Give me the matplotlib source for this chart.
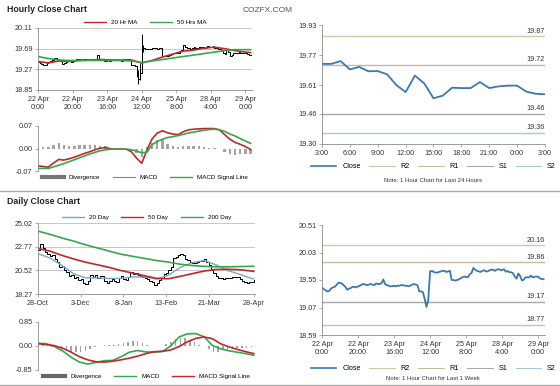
import numpy as np
import matplotlib
matplotlib.use("Agg")
import matplotlib.pyplot as plt
from matplotlib.lines import Line2D

plt.rcParams['font.family'] = ['Liberation Sans', 'DejaVu Sans']

# ---- hourly close, last week (22 Apr 0:00 -> 29 Apr ~3:00) ----
week_head = [19.42, 19.39, 19.37, 19.35, 19.36, 19.40, 19.42, 19.43, 19.46, 19.50,
             19.50, 19.49, 19.46, 19.43, 19.38, 19.40, 19.41, 19.43, 19.43, 19.42,
             19.44, 19.45, 19.47, 19.48, 19.47, 19.46, 19.47, 19.48, 19.47, 19.46,
             19.49, 19.48, 19.48, 19.49, 19.56, 19.48, 19.46, 19.45, 19.44, 19.44,
             19.45, 19.44, 19.45, 19.45, 19.46, 19.46, 19.45, 19.45, 19.44, 19.45,
             19.47, 19.48, 19.47, 19.46, 19.35, 19.35, 19.34, 19.22, 19.08, 19.20,
             19.70, 19.71, 19.69, 19.68, 19.68, 19.69, 19.70, 19.71, 19.71, 19.69,
             19.70, 19.71, 19.55, 19.55, 19.54, 19.55, 19.56, 19.58, 19.60, 19.61,
             19.60, 19.60, 19.65, 19.67, 19.76, 19.73, 19.71, 19.70, 19.69, 19.71,
             19.72, 19.70, 19.70, 19.72, 19.73, 19.73, 19.71, 19.73, 19.74]
# last 24 hours (3:00 -> 3:00)
day_close = [19.724, 19.724, 19.739, 19.695, 19.708, 19.685, 19.686, 19.669, 19.612,
             19.575, 19.662, 19.621, 19.542, 19.556, 19.598, 19.596, 19.596, 19.628,
             19.596, 19.605, 19.609, 19.609, 19.577, 19.566, 19.563]
week_close = week_head + day_close

spike_hours = [57, 58, 59, 60, 61]
spike_low = [19.12, 18.97, 19.05, 19.30, 19.62]
spike_high = [19.30, 19.25, 19.40, 19.98, 19.76]

ma_hours = [0, 6, 12, 18, 24, 30, 36, 42, 48, 54, 60, 66, 72, 78, 84, 90, 96, 102,
            108, 114, 120, 123]
ma20_hr = [19.43, 19.40, 19.44, 19.43, 19.45, 19.46, 19.47, 19.46, 19.46, 19.46,
           19.40, 19.45, 19.52, 19.58, 19.64, 19.66, 19.70, 19.72, 19.69, 19.65,
           19.62, 19.61]
ma50_hr = [19.53, 19.49, 19.46, 19.45, 19.45, 19.45, 19.45, 19.45, 19.45, 19.44,
           19.41, 19.44, 19.47, 19.50, 19.53, 19.56, 19.59, 19.62, 19.65, 19.67,
           19.67, 19.67]

macd_hours = list(range(0, 124, 3))
macd_hr = [-0.054, -0.056, -0.058, -0.045, -0.034, -0.036, -0.032, -0.027, -0.021, -0.015,
           -0.010, -0.004, 0.001, 0.003, -0.001, -0.002, -0.002, -0.002, -0.010, -0.030,
           -0.046, -0.005, 0.030, 0.048, 0.055, 0.049, 0.045, 0.043, 0.052, 0.058,
           0.060, 0.061, 0.062, 0.062, 0.062, 0.058, 0.043, 0.029, 0.019, 0.013,
           0.006, -0.003]
signal_hr = [-0.062, -0.062, -0.062, -0.057, -0.052, -0.047, -0.041, -0.035, -0.029, -0.023,
             -0.017, -0.012, -0.007, -0.004, -0.002, -0.002, -0.002, -0.002, -0.004, -0.008,
             -0.013, -0.012, 0.012, 0.022, 0.029, 0.034, 0.037, 0.040, 0.044, 0.048,
             0.051, 0.054, 0.057, 0.059, 0.060, 0.058, 0.053, 0.045, 0.039, 0.031,
             0.023, 0.016]
div_hr = [0.002, 0.004, 0.006, 0.012, 0.016, 0.011, 0.009, 0.008, 0.010, 0.011,
          0.010, 0.010, 0.008, 0.007, 0.003, 0.001, 0.000, 0.000, -0.004, -0.015,
          -0.025, 0.006, 0.018, 0.026, 0.026, 0.015, 0.008, 0.004, 0.008, 0.009,
          0.008, 0.007, 0.005, 0.003, 0.002, -0.002, -0.010, -0.016, -0.020, -0.018,
          -0.017, -0.016]

hr_ticks = [0, 20, 40, 60, 80, 100, 120]
hr_labels = ['22 Apr\n0:00', '22 Apr\n20:00', '23 Apr\n16:00', '24 Apr\n12:00',
             '25 Apr\n8:00', '28 Apr\n4:00', '29 Apr\n0:00']
h24_labels = ['3:00', '6:00', '9:00', '12:00', '15:00', '18:00', '21:00', '0:00', '3:00']

# ---- daily close (28-Oct -> 28-Apr), every 2 days ----
daily_close = [22.50, 23.05, 22.60, 22.30, 22.10, 21.85, 21.95, 21.60, 21.30, 20.80,
               20.90, 20.55, 20.40, 20.00, 20.10, 19.75, 19.85, 19.60, 19.70, 19.35,
               19.20, 19.50, 20.10, 19.90, 20.05, 19.80, 19.95, 20.00, 19.55, 19.30,
               19.55, 19.65, 19.50, 19.45, 19.80, 19.95, 19.70, 19.60, 19.90, 20.35,
               20.20, 20.25, 20.10, 19.95, 19.90, 19.75, 19.70, 19.55, 19.45, 19.15,
               19.35, 19.60, 19.75, 20.15, 20.30, 20.55, 20.85, 21.70, 21.80, 21.95,
               22.05, 21.95, 21.60, 21.50, 21.35, 21.25, 21.20, 21.30, 21.40, 21.45,
               21.55, 21.35, 21.05, 20.60, 20.25, 19.95, 19.80, 19.75, 19.70, 19.78,
               19.80, 19.82, 19.86, 19.88, 19.84, 19.70, 19.50, 19.40, 19.35, 19.40,
               19.45, 19.56]
ma_days = [0, 10, 20, 30, 40, 50, 60, 70, 80, 90, 100, 110, 120, 130, 140, 150, 160,
           170, 180, 182]
ma20_d = [22.10, 21.70, 21.00, 20.20, 19.80, 19.80, 19.75, 19.75, 19.90, 19.88,
          19.70, 20.05, 20.80, 21.25, 21.45, 21.05, 20.50, 20.15, 19.75, 19.70]
ma50_d = [22.60, 22.35, 21.95, 21.60, 21.30, 21.05, 20.80, 20.50, 20.25, 20.00,
          19.75, 19.72, 19.95, 20.20, 20.45, 20.60, 20.62, 20.58, 20.45, 20.42]
ma200_d = [24.25, 23.95, 23.60, 23.30, 22.95, 22.65, 22.35, 22.05, 21.85, 21.65,
           21.45, 21.30, 21.10, 20.98, 20.90, 20.85, 20.85, 20.88, 20.90, 20.90]

macd_days = list(range(0, 183, 7))
macd_d = [0.10, 0.08, -0.02, -0.18, -0.40, -0.57, -0.64, -0.58, -0.52, -0.51,
          -0.38, -0.22, -0.16, -0.21, -0.22, -0.19, 0.00, 0.32, 0.43, 0.44,
          0.33, 0.02, -0.10, -0.17, -0.22, -0.27, -0.33]
signal_d = [0.08, 0.05, 0.01, -0.08, -0.22, -0.38, -0.49, -0.56, -0.57, -0.54,
            -0.49, -0.43, -0.36, -0.27, -0.20, -0.19, -0.14, -0.02, 0.15, 0.27,
            0.32, 0.26, 0.08, -0.03, -0.12, -0.20, -0.27]
div_days = list(range(0, 181, 4))
div_d = [0.02, 0.03, 0.02, -0.03, -0.08, -0.13, -0.18, -0.20, -0.22, -0.20,
         -0.16, -0.11, -0.05, 0.00, 0.04, 0.03, 0.03, 0.08, 0.10, 0.14,
         0.17, 0.17, 0.10, 0.05, 0.00, 0.00, 0.00, 0.08, 0.14, 0.25,
         0.30, 0.28, 0.20, 0.15, 0.05, 0.00, -0.10, -0.22, -0.20, -0.15,
         -0.13, -0.10, -0.08, -0.07, -0.06, -0.05]
day_ticks = [0, 36, 72, 108, 144, 182]
day_labels = ['28-Oct', '3-Dec', '8-Jan', '13-Feb', '21-Mar', '28-Apr']

# pivot levels
lvl_names = ['R2', 'R1', 'S1', 'S2']
lvl_24h = [19.87, 19.72, 19.46, 19.36]
lvl_week = [20.16, 19.86, 19.17, 18.77]
lvl_colors = ['#cfc7a6', '#c2bba4', '#a8a8a8', '#a9c6de']

RED = '#c0262c'
GREEN = '#34a84a'
BLUE = '#3a78b2'
LBLUE = '#7aa6cc'
GRAY = '#8c8c8c'
FS = 5.2

W, H = 560, 386


def box(x0, y0, x1, y1):
    return [x0 / W, 1 - y1 / H, (x1 - x0) / W, (y1 - y0) / H]


def style(ax, bottom=True):
    for s in ['top', 'right']:
        ax.spines[s].set_visible(False)
    ax.spines['left'].set_color(GRAY)
    ax.spines['left'].set_linewidth(0.6)
    ax.spines['bottom'].set_color(GRAY)
    ax.spines['bottom'].set_linewidth(0.6)
    ax.spines['bottom'].set_visible(bottom)
    ax.tick_params(labelsize=FS, colors='#333333', length=2, width=0.5, pad=2)
    ax.tick_params(axis='both', color=GRAY)


fig = plt.figure(figsize=(5.6, 3.86), dpi=100)

fig.text(7 / W, 1 - 9 / H, 'Hourly Close Chart', fontsize=6.3, fontweight='bold',
         color='#222222', va='center')
fig.text(243 / W, 1 - 10 / H, 'COZFX.COM', fontsize=6, color='#555555', va='center')
fig.text(7 / W, 1 - 202 / H, 'Daily Close Chart', fontsize=6.3, fontweight='bold',
         color='#222222', va='center')
fig.add_artist(Line2D([0, 1], [1 - 191 / H] * 2, color='#aaaaaa', lw=1.0,
                      transform=fig.transFigure))
fig.add_artist(Line2D([0, 1], [1 - 385 / H] * 2, color='#aaaaaa', lw=1.0,
                      transform=fig.transFigure))

# ---- hourly price ----
hrs = np.arange(len(week_close))
ax1 = fig.add_axes(box(38, 28, 252, 90))
ax1.plot(hrs, week_close, color='black', lw=0.7, drawstyle='steps-post')
ax1.vlines(spike_hours, spike_low, spike_high, color='black', lw=0.7)
ax1.plot(ma_hours, ma20_hr, color=RED, lw=1.2)
ax1.plot(ma_hours, ma50_hr, color=GREEN, lw=1.2)
ax1.set_ylim(18.85, 20.11)
ax1.set_yticks([18.85, 19.27, 19.69, 20.11])
ax1.set_yticklabels(['18.85', '19.27', '19.69', '20.11'])
ax1.set_xlim(0, len(week_close) - 0.2)
ax1.set_xticks(hr_ticks)
ax1.set_xticklabels(hr_labels)
ax1.grid(axis='y', color='#b0b0b0', lw=0.5)
ax1.set_axisbelow(True)
style(ax1)
ax1.legend(handles=[Line2D([], [], color=RED, lw=1), Line2D([], [], color=GREEN, lw=1)],
           labels=['20 Hr MA', '50 Hrs MA'], loc='lower center', bbox_to_anchor=(0.5, 1.0),
           ncol=2, frameon=False, fontsize=4.5, handlelength=3.5, columnspacing=2,
           borderaxespad=0.1)

# ---- hourly MACD ----
ax2 = fig.add_axes(box(38, 126, 252, 171))
ax2.bar(macd_hours, div_hr, width=1.4, color='#a3a3a3')
ax2.plot(macd_hours, macd_hr, color=RED, lw=1.2)
ax2.plot(macd_hours, signal_hr, color=GREEN, lw=1.2)
ax2.set_ylim(-0.07, 0.07)
ax2.set_yticks([-0.07, 0.0, 0.07])
ax2.set_yticklabels(['-0.07', '0.00', '0.07'])
ax2.set_xlim(0, len(week_close) - 0.2)
ax2.set_xticks([])
style(ax2, bottom=False)
ax2.legend(handles=[Line2D([], [], color='#777777', lw=3),
                    Line2D([], [], color='#888888', lw=0.8),
                    Line2D([], [], color=GREEN, lw=1)],
           labels=['Divergence', 'MACD', 'MACD Signal Line'], loc='upper center',
           bbox_to_anchor=(0.5, -0.02), ncol=3, frameon=False, fontsize=4.5,
           handlelength=3.5, columnspacing=2, borderaxespad=0.1)

# ---- daily price ----
ax5 = fig.add_axes(box(38, 223, 255, 294))
dd = np.arange(len(daily_close)) * 2
ax5.plot(dd, daily_close, color='black', lw=0.7, drawstyle='steps-post')
ax5.plot(ma_days, ma20_d, color=LBLUE, lw=1.0)
ax5.plot(ma_days, ma50_d, color=RED, lw=1.2)
ax5.plot(ma_days, ma200_d, color=GREEN, lw=1.2)
ax5.set_ylim(18.27, 25.02)
ax5.set_yticks([18.27, 20.52, 22.77, 25.02])
ax5.set_yticklabels(['18.27', '20.52', '22.77', '25.02'])
ax5.set_xlim(0, 183)
ax5.set_xticks(day_ticks)
ax5.set_xticklabels(day_labels)
ax5.grid(axis='y', color='#b0b0b0', lw=0.5)
ax5.set_axisbelow(True)
style(ax5)
ax5.legend(handles=[Line2D([], [], color=LBLUE, lw=1), Line2D([], [], color=RED, lw=1),
                    Line2D([], [], color=GREEN, lw=1)],
           labels=['20 Day', '50 Day', '200 Day'], loc='lower center',
           bbox_to_anchor=(0.5, 1.0), ncol=3, frameon=False, fontsize=4.5,
           handlelength=3.5, columnspacing=2, borderaxespad=0.1)

# ---- daily MACD ----
ax6 = fig.add_axes(box(38, 322, 255, 370))
ax6.bar(div_days, div_d, width=1.3, color='#a3a3a3')
ax6.plot(macd_days, macd_d, color=GREEN, lw=1.2)
ax6.plot(macd_days, signal_d, color=RED, lw=1.2)
ax6.set_ylim(-0.85, 0.85)
ax6.set_yticks([-0.85, 0.0, 0.85])
ax6.set_yticklabels(['-0.85', '0.00', '0.85'])
ax6.set_xlim(0, 183)
ax6.set_xticks([])
style(ax6, bottom=False)
ax6.legend(handles=[Line2D([], [], color='#666666', lw=3),
                    Line2D([], [], color=GREEN, lw=1),
                    Line2D([], [], color=RED, lw=1)],
           labels=['Divergence', 'MACD', 'MACD Signal Line'], loc='upper center',
           bbox_to_anchor=(0.5, -0.02), ncol=3, frameon=False, fontsize=4.5,
           handlelength=3.5, columnspacing=2, borderaxespad=0.1)


def pivot_panel(ax, x, y, levels, xmax):
    handles = [Line2D([], [], color=BLUE, lw=1.2)]
    for lv, c in zip(levels, lvl_colors):
        ax.axhline(lv, color=c, lw=1.0)
        ax.text(xmax, lv, f'{lv:.2f}\n', ha='right', va='center', fontsize=FS,
                color='#333333', linespacing=1.6)
        handles.append(Line2D([], [], color=c, lw=0.8))
    ax.plot(x, y, color=BLUE, lw=1.3)
    ax.set_xlim(0, xmax)
    style(ax)
    ax.legend(handles=handles, labels=['Close'] + lvl_names, loc='upper center',
              ncol=5, frameon=False, fontsize=FS, handlelength=3.5, columnspacing=1.2,
              borderaxespad=0.1)


# ---- last 24 hours ----
ax3 = fig.add_axes(box(322, 25, 545, 144))
pivot_panel(ax3, np.arange(len(day_close)), day_close, lvl_24h, len(day_close) - 1)
ax3.set_ylim(19.30, 19.93)
ax3.set_yticks([19.30, 19.46, 19.61, 19.77, 19.93])
ax3.set_yticklabels(['19.30', '19.46', '19.61', '19.77', '19.93'])
ax3.set_xticks(range(0, 25, 3))
ax3.set_xticklabels(h24_labels)
ax3.get_legend().set_bbox_to_anchor((0.5, -0.13))
fig.text(433 / W, 1 - 180 / H, 'Note: 1 Hour Chart for Last 24 Hours', fontsize=4.3,
         ha='center', va='center', color='#333333')

# ---- last week ----
ax4 = fig.add_axes(box(322, 225, 545, 335))
pivot_panel(ax4, hrs, week_close, lvl_week, len(week_close) - 0.2)
ax4.set_ylim(18.59, 20.51)
ax4.set_yticks([18.59, 19.07, 19.55, 20.03, 20.51])
ax4.set_yticklabels(['18.59', '19.07', '19.55', '20.03', '20.51'])
ax4.set_xticks(hr_ticks)
ax4.set_xticklabels(hr_labels)
ax4.get_legend().set_bbox_to_anchor((0.5, -0.24))
fig.text(433 / W, 1 - 379 / H, 'Note: 1 Hour Chart for Last 1 Week', fontsize=4.3,
         ha='center', va='center', color='#333333')

fig.savefig('out.png', dpi=100)
